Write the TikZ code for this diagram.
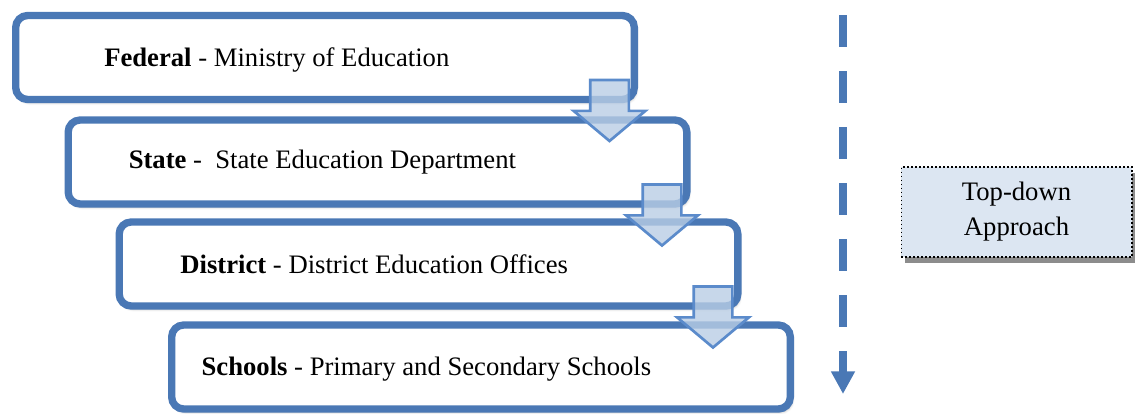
\documentclass[tikz,border=0pt]{standalone}
\usepackage{fontspec}
\setmainfont{Liberation Serif}
\usepackage{tikz}
\usetikzlibrary{positioning,calc,shapes.arrows,arrows.meta,shadows,shadows.blur}
\definecolor{lvlblue}{HTML}{4A78B5}
\definecolor{arrfill}{HTML}{B9CDE5}
\definecolor{arrline}{HTML}{5B8BCB}
\definecolor{apfill}{HTML}{DCE6F2}

\begin{document}
\begin{tikzpicture}[x=0.75pt, y=-0.75pt,
  lvlbox/.style={draw=lvlblue, line width=5.5pt, fill=white, rounded corners=9pt, minimum width=464pt, minimum height=63pt, inner sep=0pt, blur shadow={shadow xshift=1.5pt, shadow yshift=-2.5pt, shadow opacity=25, shadow blur steps=6}},
  lvltext/.style={font=\fontsize{20}{24}\selectfont, inner sep=0pt, anchor=west},
  downarr/.style={single arrow, shape border rotate=270, anchor=tail, draw=arrline, line width=2pt, fill=arrfill, fill opacity=0.8, inner sep=13.5pt, minimum width=51.8pt, single arrow head extend=12.4pt, single arrow tip angle=100, minimum height=45.75pt},
  approach/.style={draw=black, dotted, line width=1pt, fill=apfill, minimum width=173pt, minimum height=67.5pt, align=center, font=\fontsize{20}{26.25}\selectfont, drop shadow={shadow xshift=2.5pt, shadow yshift=-4.5pt, fill=black!45, opacity=1}},
  topdown/.style={draw=lvlblue, line width=6.5pt, dash pattern=on 24pt off 18pt, -{Triangle[width=17pt,length=17pt]}},
]
\useasboundingbox (0,0) rectangle (1135,414);
% levels
\node[lvlbox] (fed) at (325,57.5)  {};
\node[lvlbox] (sta) at (377.5,162) {};
\node[lvlbox] (dis) at (428.5,264) {};
\node[lvlbox] (sch) at (481,367)   {};
\node[lvltext, right=69pt of fed.west, yshift=-1.5pt] (fedt) {\textbf{Federal} - Ministry of Education};
\node[lvltext, right=48pt of sta.west]                (stat) {\textbf{State} -\ \ State Education Department};
\node[lvltext, right=48.5pt of dis.west]              (dist) {\textbf{District} - District Education Offices};
\node[lvltext, right=25pt of sch.west, yshift=-1.5pt] (scht) {\textbf{Schools} - Primary and Secondary Schools};
% block arrows between levels
\node[downarr] (a1) at ($(fed.south east)+(-28.5,-24.5)$) {};
\node[downarr] (a2) at ($(sta.south east)+(-28.5,-24.5)$) {};
\node[downarr] (a3) at ($(dis.south east)+(-28.5,-24.5)$) {};
% side note
\coordinate (tdtop) at (843,15);
\coordinate (tdbot) at (843,394);
\draw[topdown] (tdtop) -- (tdbot);
\node[approach] (tda) at (1016.5,212) {Top-down\\Approach};
\end{tikzpicture}
\end{document}
